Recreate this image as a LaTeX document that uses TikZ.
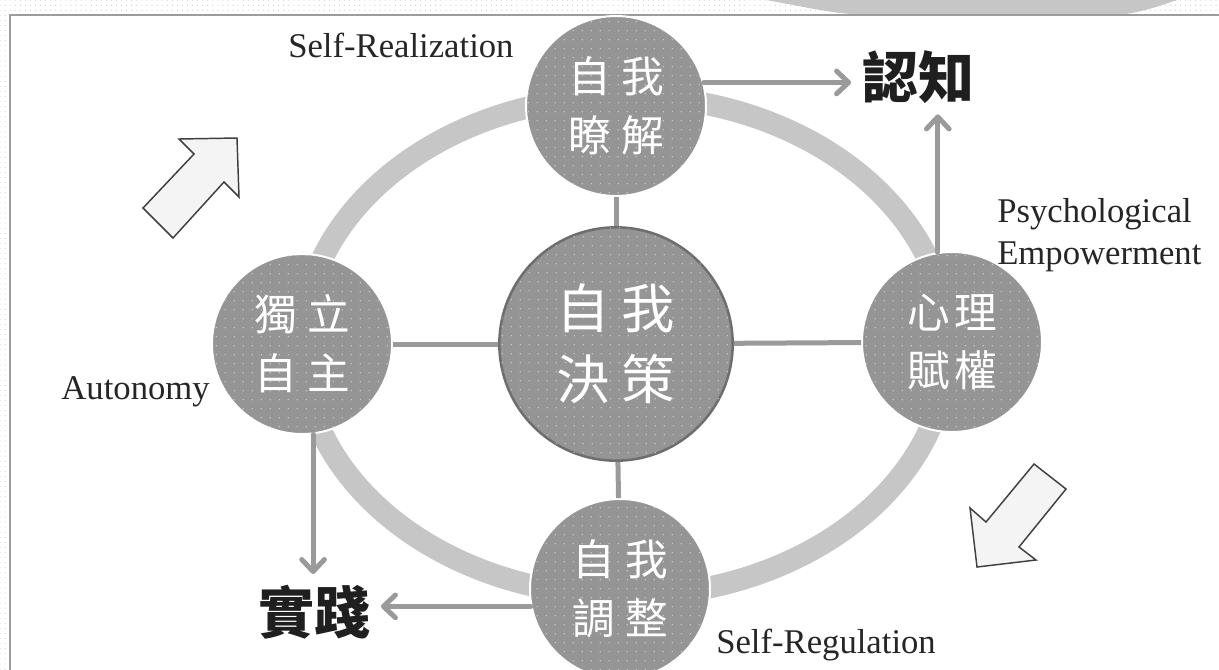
\documentclass[tikz,border=0pt]{standalone}
\usepackage{fontspec}
\setmainfont{Liberation Serif}
\newfontfamily\cjk{Noto Sans CJK TC}
\usetikzlibrary{arrows.meta,patterns.meta,positioning}
\definecolor{ringgray}{HTML}{C6C6C6}
\definecolor{discgray}{HTML}{959595}
\definecolor{linkgray}{HTML}{9A9A9A}
\definecolor{rimgray}{HTML}{6E6E6E}
\definecolor{framegray}{HTML}{9C9C9C}
\definecolor{blockfill}{HTML}{F4F4F4}
\definecolor{blockedge}{HTML}{404040}
\definecolor{textdark}{HTML}{262626}

\tikzset{
  disc/.style={circle, fill=discgray, draw=white, line width=1.5pt,
    minimum size=135pt, inner sep=0pt, text=white, align=center,
    font=\cjk\fontsize{32}{44}\selectfont,
    postaction={pattern={Dots[distance=6.5pt,radius=0.5pt]},
      pattern color=white!65!discgray}},
  core/.style={disc, draw=rimgray, line width=1.9pt, minimum size=175pt,
    font=\cjk\fontsize{40}{53}\selectfont},
  link/.style={draw=linkgray, line width=3.75pt},
  flow/.style={draw=linkgray, line width=3.75pt, line cap=round,
    -{Straight Barb[length=9pt,width=17pt,round]}},
  goal/.style={font=\cjk\bfseries\fontsize{42}{42}\selectfont,
    text=black!88, inner sep=8pt},
  tag/.style={font=\fontsize{26}{31.5}\selectfont, text=textdark,
    inner sep=0pt, align=left},
  blockarrow/.style={fill=blockfill, draw=blockedge, line width=1.1pt,
    line join=miter}
}

\begin{document}
\begin{tikzpicture}[x=0.75pt,y=-0.75pt]
  \useasboundingbox (0,0) rectangle (1219,669);
  \clip (0,0) rectangle (1219,669);

  % Slide background and frame
  \fill[pattern={Dots[distance=3.8pt,radius=0.45pt]}, pattern color=gray!40]
    (0,0) rectangle (1219,669);
  \fill[gray!45] (766,0) .. controls (800,6) and (830,13) .. (853,14)
    -- (1126,14) .. controls (1150,10) and (1165,4) .. (1177,0) -- cycle;
  \draw[framegray, line width=2.2pt, fill=white] (10,15) rectangle (1240,700);

  % Outer ring
  \draw[ringgray, line width=16.5pt] (625,346) ellipse [x radius=323, y radius=250];

  % The five discs
  \node[core] (self) at (616,344) {自\hspace{0.22em}我\\決\hspace{0.22em}策};
  \node[disc] (real) at (616,106) {自\hspace{0.25em}我\\瞭\hspace{0.25em}解};
  \node[disc] (auto) at (302,344) {獨\hspace{0.25em}立\\自\hspace{0.25em}主};
  \node[disc] (empo) at (952,342) {心\hspace{0.1em}理\\賦\hspace{0.1em}權};
  \node[disc] (regu) at (620,589) {自\hspace{0.25em}我\\調\hspace{0.25em}整};

  \draw[link] (real) -- (self);
  \draw[link] (auto) -- (self);
  \draw[link] (self) -- (empo);
  \draw[link] (self) -- (regu);

  % Outcomes
  \node[goal] (cog) at (918,77) {認知};
  \node[goal] (prac) at (314,612) {實踐};

  \draw[flow] (real.15) -- (real.15 -| cog.west);
  \draw[flow] (empo.99) -- (empo.99 |- cog.south);
  \draw[flow] (auto.277) -- (auto.277 |- prac.north);
  \draw[flow] (regu.191) -- (regu.191 -| prac.east);

  % English labels
  \node[tag, anchor=west] (lreal) at (288,45) {Self-Realization};
  \node[tag, anchor=west] (lempo) at (997,235) {Psychological\\Empowerment};
  \node[tag, anchor=east] (lauto) at (210,392) {Autonomy};
  \node[tag, anchor=west] (lregu) at (716,645) {Self-Regulation};

  % Turning arrows
  \draw[blockarrow] (143,208) -- (194,154) -- (179,139) -- (237,138)
    -- (239,197) -- (224,182) -- (173,238) -- cycle;
  \draw[blockarrow] (1034,464) -- (1066,489) -- (1019,547) -- (1036,560)
    -- (977,567) -- (970,508) -- (986,522) -- cycle;
\end{tikzpicture}
\end{document}
